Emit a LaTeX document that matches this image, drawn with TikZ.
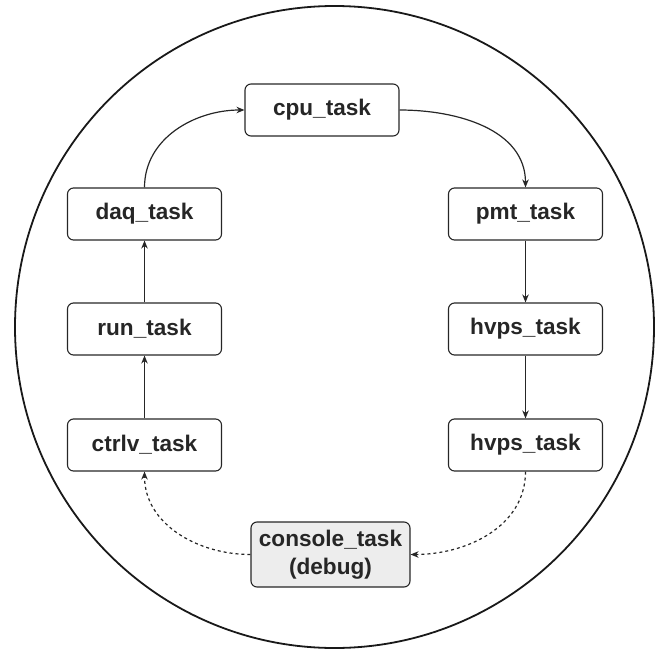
\documentclass[tikz,border=0pt]{standalone}
\usepackage{fontspec}
\setmainfont{Liberation Sans}
\usetikzlibrary{arrows.meta}
\begin{document}
\begin{tikzpicture}[x=1pt,y=-1pt,
  task/.style={draw=black!85, line width=1.1pt, rounded corners=6pt,
    minimum width=154pt, minimum height=52pt, inner sep=0pt,
    font=\fontsize{22.6}{28}\selectfont\bfseries, text=black!85, align=center},
  flow/.style={line width=1.2pt, draw=black!85, -{Stealth[length=8pt,width=6.5pt]}},
  dbg/.style={flow, dashed, dash pattern=on 3pt off 3pt}]
\useasboundingbox (0,0) rectangle (658,650);
\draw[line width=1.8pt, black!90] (334.5,327) ellipse [x radius=319.5, y radius=321];

\node[task] (cpu)   at (322,110)   {cpu\_task};
\node[task] (daq)   at (144.5,214) {daq\_task};
\node[task] (run)   at (144.5,329) {run\_task};
\node[task] (ctrlv) at (144.5,445) {ctrlv\_task};
\node[task] (pmt)   at (525.5,214) {pmt\_task};
\node[task] (hv1)   at (525.5,329) {hvps\_task};
\node[task] (hv2)   at (525.5,445) {hvps\_task};
\node[task, fill=black!7, minimum width=159pt, minimum height=65pt] (con) at (330.5,554.5) {console\_task\\(debug)};

\draw[flow] (daq.north) to[out=90,in=180] (cpu.west);
\draw[flow] (cpu.east) to[out=0,in=90] (pmt.north);
\draw[flow] (pmt) -- (hv1);
\draw[flow] (hv1) -- (hv2);
\draw[flow] (ctrlv) -- (run);
\draw[flow] (run) -- (daq);
\draw[dbg] (hv2.south) to[out=-90,in=0] (con.east);
\draw[dbg] (con.west) to[out=180,in=-90] (ctrlv.south);
\end{tikzpicture}
\end{document}
